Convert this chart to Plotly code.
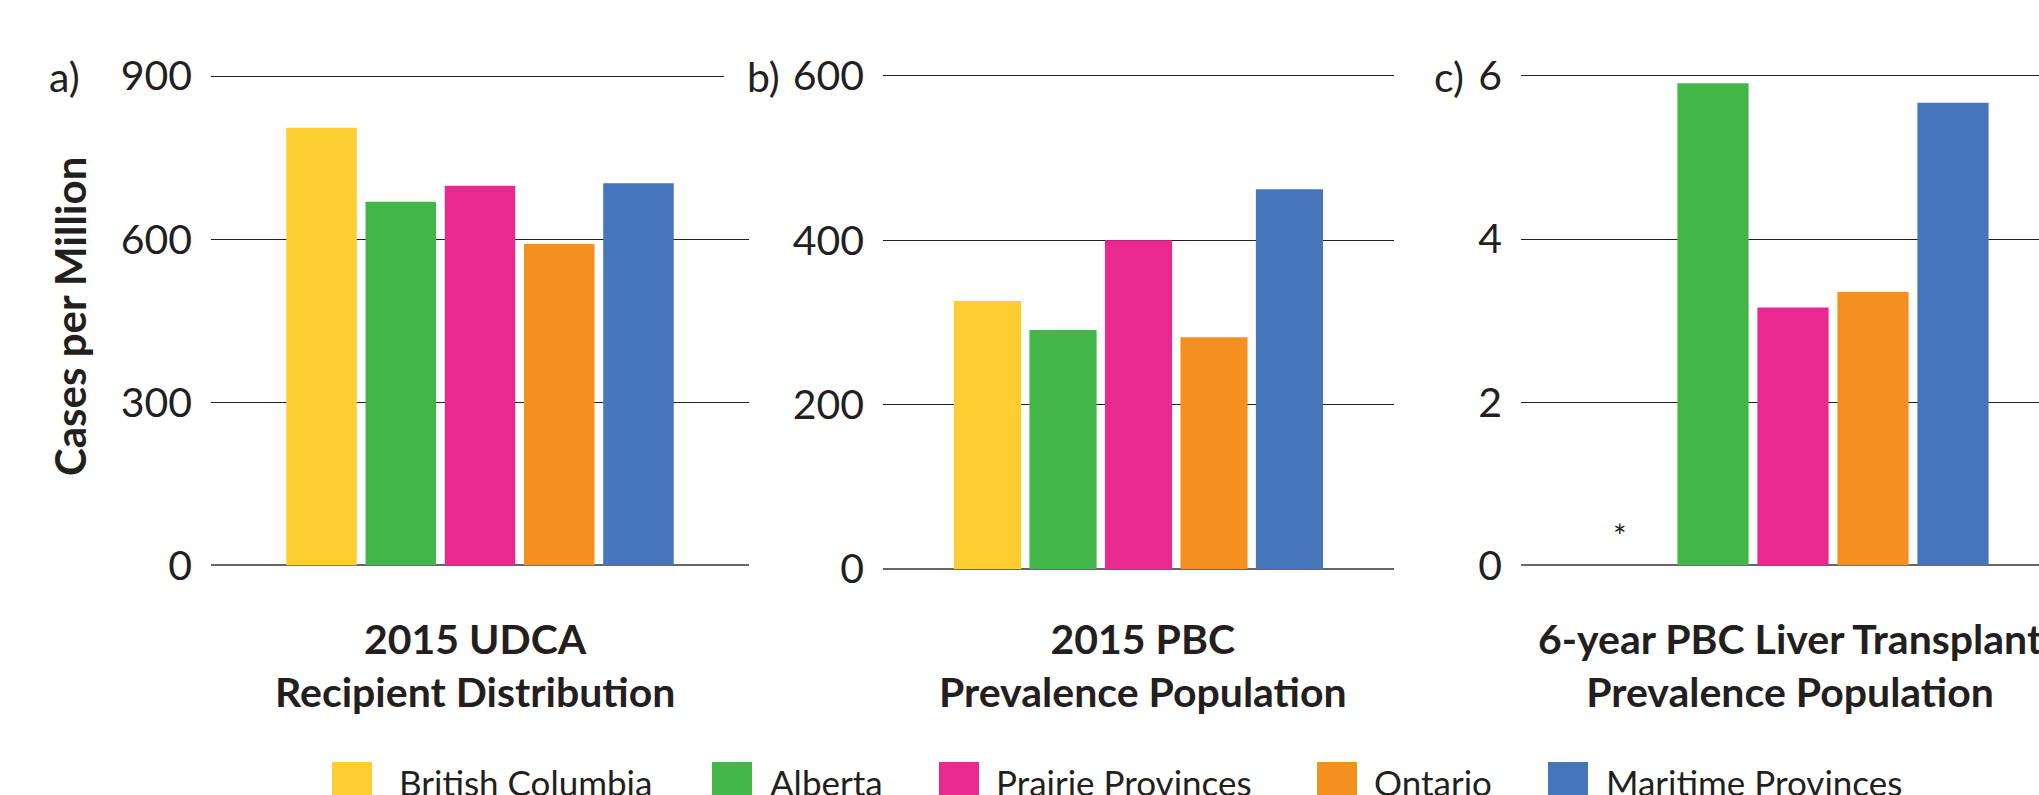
import plotly.graph_objects as go

# ---- data ----
provinces = ["British Columbia", "Alberta", "Prairie Provinces", "Ontario", "Maritime Provinces"]
colors = ["#FDCE31", "#42B649", "#E8298F", "#F4901F", "#4675BA"]

udca_2015 = [805, 669, 698, 591, 703]
pbc_prev_2015 = [326, 291, 400, 282, 462]
transplant_6yr = [None, 5.91, 3.16, 3.35, 5.67]

panel_titles = ["<b>2015 UDCA<br>Recipient Distribution</b>",
                "<b>2015 PBC<br>Prevalence Population</b>",
                "<b>6-year PBC Liver Transplant<br>Prevalence Population</b>"]
panel_letters = ["a)", "b)", "c)"]
ticks_a = [0, 300, 600, 900]
ticks_b = [0, 200, 400, 600]
ticks_c = [0, 2, 4, 6]

W, H = 2039, 795
TXT = "#231F20"
FONT = "Lato"

def px(x):
    return x / W

def py(y):
    return (H - y) / H

fig = go.Figure()
series = [udca_2015, pbc_prev_2015, transplant_6yr]
for i, vals in enumerate(series):
    sfx = "" if i == 0 else str(i + 1)
    fig.add_trace(go.Bar(x=provinces, y=vals, marker=dict(color=colors, line=dict(width=0)),
                         xaxis="x" + sfx, yaxis="y" + sfx, showlegend=False,
                         hoverinfo="x+y"))

xdom = [(px(211), px(749)), (px(883), px(1394)), (px(1521), 1.0)]
xrng = [[-1.395, 5.395], [-1.385, 5.385], [-1.4, 5.075]]
# top of range padded slightly so the top gridline is drawn
ydom = [(py(565.4), py(73.3)), (py(569), py(73.5)), (py(565.4), py(73.5))]
yrng = [[0, 905], [0, 603], [0, 6.03]]
ytk = [ticks_a, ticks_b, ticks_c]

layout = dict(
    width=W, height=H, margin=dict(l=0, r=0, t=0, b=0, pad=0, autoexpand=False),
    paper_bgcolor="white", plot_bgcolor="white",
    bargap=0.11, showlegend=False,
    font=dict(family=FONT, color=TXT),
)
for i in range(3):
    sfx = "" if i == 0 else str(i + 1)
    layout["xaxis" + sfx] = dict(domain=list(xdom[i]), range=xrng[i], anchor="y" + sfx,
                                 showticklabels=False, showgrid=False, zeroline=False,
                                 showline=False, ticks="", fixedrange=True, automargin=False)
    layout["yaxis" + sfx] = dict(domain=list(ydom[i]), range=yrng[i], anchor="x" + sfx,
                                 tickvals=ytk[i], ticktext=[str(v) for v in ytk[i]],
                                 showgrid=True, gridcolor="#231F20", gridwidth=1.3,
                                 zeroline=True, zerolinecolor="#666666", zerolinewidth=2,
                                 showline=False, ticks="", ticklabelstandoff=18,
                                 tickfont=dict(family=FONT, size=41, color=TXT),
                                 fixedrange=True, automargin=False)
fig.update_layout(**layout)

ann = []
# panel letters
for lx, letter in zip([64.5, 763.5, 1449], panel_letters):
    ann.append(dict(x=px(lx), y=py(77), xref="paper", yref="paper", text=letter,
                    showarrow=False, xanchor="center", yanchor="middle",
                    font=dict(family=FONT, size=41, color=TXT)))
# panel titles
for tx, t in zip([474.5, 1143, 1790], panel_titles):
    ann.append(dict(x=px(tx), y=py(612), xref="paper", yref="paper", text=t,
                    showarrow=False, xanchor="center", yanchor="top",
                    font=dict(family=FONT, size=41, color=TXT)))
# y axis title
ann.append(dict(x=px(70), y=py(317), xref="paper", yref="paper",
                text="<b>Cases per Million</b>", textangle=-90, showarrow=False,
                xanchor="center", yanchor="middle",
                font=dict(family=FONT, size=42, color=TXT)))
# asterisk for missing BC value in panel c
ann.append(dict(x=provinces[0], y=0, xref="x3", yref="y3", text="*", showarrow=False,
                xshift=-13, yshift=30, font=dict(family=FONT, size=32, color=TXT)))

# legend (manual, large swatches)
sw_x = [332, 712, 939, 1317, 1548]
lab_x = [397, 768, 994, 1372, 1604]
shapes = []
for sx, lx, name, c in zip(sw_x, lab_x, provinces, colors):
    shapes.append(dict(type="rect", xref="paper", yref="paper", x0=px(sx), x1=px(sx + 40),
                       y0=py(800), y1=py(762), fillcolor=c, line=dict(width=0)))
    ann.append(dict(x=px(lx), y=py(759), xref="paper", yref="paper", text=name,
                    showarrow=False, xanchor="left", yanchor="top",
                    font=dict(family=FONT, size=35, color=TXT)))
# gap in panel a's top gridline next to the "b)" label
shapes.append(dict(type="rect", xref="paper", yref="paper", x0=px(724), x1=px(752),
                   y0=py(81), y1=py(71), fillcolor="white", line=dict(width=0), layer="above"))

fig.update_layout(annotations=ann, shapes=shapes)
fig.write_html("out.html",
               config={"displayModeBar": False},
               post_script="document.body.style.margin='0';document.body.style.overflow='hidden';")
